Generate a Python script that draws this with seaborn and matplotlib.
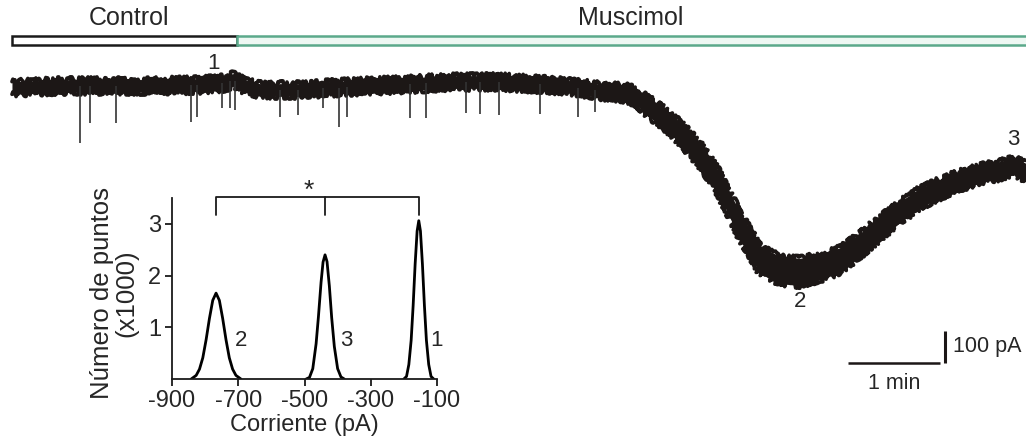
import numpy as np
import pandas as pd
import matplotlib
matplotlib.use("Agg")
import matplotlib.pyplot as plt
from matplotlib.patches import Rectangle
import seaborn as sns

# ---- holding-current trace (time in s, current in pA) ----
trace_time = [0, 31.3, 57.4, 90.0, 122.6, 138.9, 144.1, 151.9, 161.7, 187.8,
              207.3, 233.4, 253.0, 285.6, 318.2, 350.8, 370.3, 383.4, 396.4, 406.2,
              416.0, 429.0, 438.8, 448.6, 461.6, 474.7, 487.7, 500.7, 513.8, 526.8,
              539.9, 552.9, 565.9, 579.0, 592.0, 611.6, 631.1, 644.2, 653.9, 661.1]
trace_current = [-150, -143.7, -143.7, -143.7, -140.5, -134.2, -124.8, -143.7, -156.3, -156.3,
                 -150, -143.7, -140.5, -131.1, -131.1, -140.5, -150, -159.5, -162.6, -175.2,
                 -213.1, -260.4, -307.8, -361.4, -456.0, -585.4, -692.7, -724.2, -730.5, -714.7,
                 -692.7, -645.3, -591.7, -541.2, -497.1, -452.9, -421.3, -408.7, -396.1, -415.0]
# half-width of the noise band around the trace (pA)
trace_noise = [20] * 17 + [22, 24, 26] + [30, 33, 35, 37, 39, 41, 43, 43, 43, 41,
                                          39, 37, 35, 33, 31, 29, 27, 27, 27, 27]

# spontaneous inward currents: time (s) and peak (pA)
spike_time = [44.3, 50.9, 67.8, 116.7, 120.6, 136.9, 142.1, 145.4, 174.7, 186.5,
              202.8, 213.2, 218.4, 259.5, 269.9, 296.0, 305.1, 317.5, 344.3, 369.0, 380.1]
spike_peak = [-323.5, -260.4, -260.4, -257.3, -241.5, -213.1, -213.1, -219.4, -241.5, -235.2,
              -213.1, -273.0, -241.5, -244.7, -244.7, -228.9, -232.0, -235.2, -232.0, -241.5, -225.7]

# drug application periods (s)
conditions = ["Control", "Muscimol"]
cond_start = [0.0, 146.7]
cond_end = [146.7, 670.0]

# points of the trace used for the histograms
point_labels = ["1", "2", "3"]
point_time = [131.7, 513.8, 652.7]

# ---- all-points histograms (current in pA, counts x1000) ----
hist1_pA = [-200, -192, -185, -178, -172, -166, -160, -155, -150, -144, -138, -132, -125, -118, -110]
hist1_n = [0, 0.05, 0.28, 0.75, 1.42, 2.22, 2.86, 3.06, 2.86, 2.22, 1.42, 0.75, 0.28, 0.05, 0]
hist2_pA = [-842, -827, -817, -807, -797, -787, -777, -767, -757, -747, -737, -727, -717, -707, -692]
hist2_n = [0, 0.07, 0.19, 0.41, 0.76, 1.17, 1.52, 1.66, 1.52, 1.17, 0.76, 0.41, 0.19, 0.07, 0]
hist3_pA = [-495, -485, -475, -465, -458, -450, -444, -438, -432, -425, -418, -410, -400, -390, -380]
hist3_n = [0, 0.03, 0.2, 0.68, 1.2, 1.87, 2.26, 2.40, 2.27, 1.8, 1.19, 0.63, 0.2, 0.04, 0]
hist_x_ticks = [-900, -700, -500, -300, -100]
hist_y_ticks = [1, 2, 3]

sns.set_theme(style="white")
plt.rcParams["font.family"] = ["Liberation Sans", "DejaVu Sans"]
plt.rcParams["axes.unicode_minus"] = False

INK = "#1c1716"
TXT = "#262626"

fig = plt.figure(figsize=(10.26, 4.42), dpi=100)
ax = fig.add_axes([0, 0, 1, 1])
ax.set_xlim(-7.8, 661.1)
ax.set_ylim(-1266.9, 127.6)
ax.axis("off")

tr = pd.DataFrame({"t": trace_time, "I": trace_current, "w": trace_noise})
tr["lo"] = tr["I"] - tr["w"]
tr["hi"] = tr["I"] + tr["w"]

# trace drawn as a filled noise band with roughened edges
ax.fill_between(tr["t"], tr["lo"], tr["hi"], color=INK, lw=0)
for col in ["hi", "lo"]:
    sns.lineplot(data=tr, x="t", y=col, ax=ax, color=INK, lw=2.6, sort=False)
    ax.lines[-1].set_sketch_params(scale=2.8, length=0.5, randomness=3)

spike_base = np.interp(spike_time, trace_time, trace_current)
ax.vlines(spike_time, spike_base, spike_peak, color="#333333", lw=1.2)

# application bars
bar_colors = [("white", "#1a1a1a"), ("#eef8f3", "#5ba98b")]
for name, s, e, (fc, ec) in zip(conditions, cond_start, cond_end, bar_colors):
    ax.add_patch(Rectangle((s, -14), e - s, 28, fc=fc, ec=ec, lw=1.8))
ax.text(76, 70, conditions[0], ha="center", va="center", fontsize=18, color=TXT)
ax.text(403.6, 70, conditions[1], ha="center", va="center", fontsize=18, color=TXT)

# trace point labels
label_y = [-74.3, -825.0, -314.0]
for lab, t, y in zip(point_labels, point_time, label_y):
    ax.text(t, y, lab, ha="center", va="center", fontsize=16, color=TXT)

# scale bars: 1 min, 100 pA
ax.plot([545.1, 605.1], [-1017.6, -1017.6], color=INK, lw=1.8, solid_capstyle="butt")
ax.plot([608.3, 608.3], [-917.6, -1017.6], color=INK, lw=2.2, solid_capstyle="butt")
ax.text(613.5, -967, "100 pA", ha="left", va="center", fontsize=15.5, color=TXT)
ax.text(575.1, -1083.9, "1 min", ha="center", va="center", fontsize=15.5, color=TXT)

# ---- inset: all-points histogram ----
ins = fig.add_axes([172 / 1026, 63 / 442, 265 / 1026, 194 / 442])
ins.patch.set_alpha(0)
for xs, ys in [(hist2_pA, hist2_n), (hist3_pA, hist3_n), (hist1_pA, hist1_n)]:
    sns.lineplot(x=xs, y=ys, ax=ins, color="black", lw=2.0, sort=False)
ins.set_xlim(-900, -100)
ins.set_ylim(0, 3.75)
ins.set_xticks(hist_x_ticks)
ins.set_yticks(hist_y_ticks)
ins.spines["top"].set_visible(False)
ins.spines["right"].set_visible(False)
for sp in ["left", "bottom"]:
    ins.spines[sp].set_color("#1a1a1a")
    ins.spines[sp].set_linewidth(1.3)
ins.spines["left"].set_bounds(0, 3.5)
ins.tick_params(axis="both", which="major", direction="out", length=5, width=1.3,
                colors="#1a1a1a", labelsize=17, labelcolor=TXT, pad=3,
                bottom=True, left=True)
ins.set_xlabel("Corriente (pA)", fontsize=17, color=TXT, labelpad=1)
ins.set_ylabel("Número de puntos\n(x1000)", fontsize=18.5, color=TXT, linespacing=1.0)
ins.yaxis.set_label_coords(-0.128, 0.443)

for lab, xv, yv in zip(point_labels, [-102, -692, -374], [0.75, 0.75, 0.75]):
    ins.text(xv, yv, lab, ha="center", va="center", fontsize=16, color=TXT)

# significance bracket across the three peaks
bx = [hist2_pA[7], hist1_pA[7]]
ins.plot([bx[0], bx[0], bx[1], bx[1]], [3.17, 3.52, 3.52, 3.17], color="#1a1a1a",
         lw=1.3, clip_on=False)
ins.plot([hist3_pA[7], hist3_pA[7]], [3.52, 3.17], color="#1a1a1a", lw=1.3, clip_on=False)
ins.text(-486, 3.64, "*", ha="center", va="center", fontsize=19, color=TXT, clip_on=False)

fig.savefig("out.png", dpi=100)
